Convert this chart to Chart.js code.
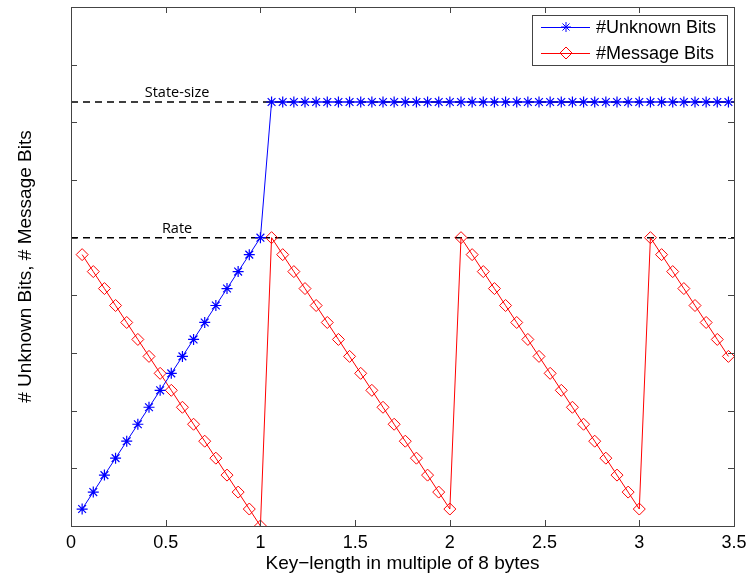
<!DOCTYPE html>
<html>
<head>
<meta charset="utf-8">
<script src="https://cdn.jsdelivr.net/npm/chart.js@4.4.1/dist/chart.umd.min.js"></script>
<style>
  html, body { margin: 0; padding: 0; background: #fff; }
  #wrap { width: 748px; height: 578px; }
</style>
</head>
<body>
<div id="wrap"><canvas id="chart" width="748" height="578"></canvas></div>
<script>
// key length counted in 8-byte blocks; 17 blocks = 1 unit on the x axis
const keyBlocks = [1, 2, 3, 4, 5, 6, 7, 8, 9, 10, 11, 12, 13, 14, 15, 16, 17, 18, 19, 20,
  21, 22, 23, 24, 25, 26, 27, 28, 29, 30, 31, 32, 33, 34, 35, 36, 37, 38, 39, 40,
  41, 42, 43, 44, 45, 46, 47, 48, 49, 50, 51, 52, 53, 54, 55, 56, 57, 58, 59];
const blocksPerUnit = 17;

const unknownBits = [64, 128, 192, 256, 320, 384, 448, 512, 576, 640, 704, 768, 832, 896, 960, 1024, 1088,
  1600, 1600, 1600, 1600, 1600, 1600, 1600, 1600, 1600, 1600, 1600, 1600, 1600, 1600, 1600, 1600, 1600,
  1600, 1600, 1600, 1600, 1600, 1600, 1600, 1600, 1600, 1600, 1600, 1600, 1600, 1600, 1600, 1600, 1600,
  1600, 1600, 1600, 1600, 1600, 1600, 1600, 1600];
const messageBits = [1024, 960, 896, 832, 768, 704, 640, 576, 512, 448, 384, 320, 256, 192, 128, 64, 0,
  1088, 1024, 960, 896, 832, 768, 704, 640, 576, 512, 448, 384, 320, 256, 192, 128, 64,
  1088, 1024, 960, 896, 832, 768, 704, 640, 576, 512, 448, 384, 320, 256, 192, 128, 64,
  1088, 1024, 960, 896, 832, 768, 704, 640];

const stateSize = 1600;
const rateBits = 1088;

const xTicks = [0, 0.5, 1, 1.5, 2, 2.5, 3, 3.5];
const yTicks = [0, 217.6, 435.2, 652.8, 870.4, 1088, 1305.6, 1523.2, 1740.8, 1958.4];

const toPoints = vals => vals.map((v, i) => ({ x: keyBlocks[i] / blocksPerUnit, y: v }));
const hLine = v => [{ x: xTicks[0], y: v }, { x: xTicks[xTicks.length - 1], y: v }];

const AXIS_FONT = 'Liberation Sans, Arial, sans-serif';

// frame with inward ticks on all four sides (matlab box)
const framePlugin = {
  id: 'frame',
  afterDatasetsDraw(chart) {
    const { ctx, chartArea: a, scales: { x, y } } = chart;
    ctx.save();
    ctx.strokeStyle = '#444';
    ctx.lineWidth = 1;
    ctx.strokeRect(a.left + 0.5, a.top + 0.5, a.right - a.left, a.bottom - a.top);
    ctx.beginPath();
    const len = 6;
    xTicks.forEach(v => {
      const px = Math.round(x.getPixelForValue(v)) + 0.5;
      ctx.moveTo(px, a.bottom); ctx.lineTo(px, a.bottom - len);
      ctx.moveTo(px, a.top); ctx.lineTo(px, a.top + len);
    });
    yTicks.forEach(v => {
      const py = Math.round(y.getPixelForValue(v)) + 0.5;
      ctx.moveTo(a.left, py); ctx.lineTo(a.left + len, py);
      ctx.moveTo(a.right, py); ctx.lineTo(a.right - len, py);
    });
    ctx.stroke();
    ctx.restore();
  }
};

// "State-size" / "Rate" text over the dashed lines
const refLabelPlugin = {
  id: 'refLabels',
  afterDatasetsDraw(chart, args, opts) {
    const { ctx, scales: { x, y } } = chart;
    ctx.save();
    ctx.font = '14.5px "Open Sans", sans-serif';
    ctx.fillStyle = '#000';
    ctx.textAlign = 'center';
    ctx.textBaseline = 'alphabetic';
    opts.items.forEach(it => {
      ctx.fillText(it.text, x.getPixelForValue(opts.atX), y.getPixelForValue(it.value) - 5);
    });
    ctx.restore();
  }
};

// legend box inside the plot, top right
const boxLegendPlugin = {
  id: 'boxLegend',
  afterDraw(chart) {
    const { ctx, chartArea: a } = chart;
    const left = a.right - 202, top = a.top + 8, w = 195, h = 50;
    ctx.save();
    ctx.fillStyle = '#fff';
    ctx.fillRect(left, top, w, h);
    ctx.strokeStyle = '#444';
    ctx.lineWidth = 1;
    ctx.strokeRect(left + 0.5, top + 0.5, w, h);

    const rows = chart.data.datasets.filter(d => d.inLegend);
    rows.forEach((d, i) => {
      const cy = top + 12 + i * 26;
      ctx.strokeStyle = d.borderColor;
      ctx.lineWidth = 1;
      ctx.beginPath();
      ctx.moveTo(left + 9, cy + 0.5); ctx.lineTo(left + 58, cy + 0.5);
      ctx.stroke();
      const mx = left + 34;
      ctx.beginPath();
      if (d.pointStyle === 'star') {
        const r = 5;
        for (let k = 0; k < 4; k++) {
          const ang = k * Math.PI / 4;
          ctx.moveTo(mx - r * Math.cos(ang), cy - r * Math.sin(ang));
          ctx.lineTo(mx + r * Math.cos(ang), cy + r * Math.sin(ang));
        }
      } else {
        const r = 6;
        ctx.moveTo(mx, cy - r); ctx.lineTo(mx + r, cy); ctx.lineTo(mx, cy + r); ctx.lineTo(mx - r, cy); ctx.closePath();
      }
      ctx.stroke();
      ctx.fillStyle = '#000';
      ctx.font = '18px ' + AXIS_FONT;
      ctx.textBaseline = 'middle';
      ctx.textAlign = 'left';
      ctx.fillText(d.label, left + 64, cy + 1);
    });
    ctx.restore();
  }
};

new Chart(document.getElementById('chart'), {
  type: 'line',
  data: {
    datasets: [
      {
        label: '#Unknown Bits',
        inLegend: true,
        data: toPoints(unknownBits),
        borderColor: '#0000ff',
        borderWidth: 1,
        pointStyle: 'star',
        pointRadius: 5.5,
        pointBorderColor: '#0000ff',
        pointBorderWidth: 1.2,
        pointBackgroundColor: 'rgba(0,0,0,0)',
        order: 0
      },
      {
        label: '#Message Bits',
        inLegend: true,
        data: toPoints(messageBits),
        borderColor: '#ff0000',
        borderWidth: 1,
        pointStyle: 'rectRot',
        pointRadius: 6,
        pointBorderColor: '#ff0000',
        pointBorderWidth: 1,
        pointBackgroundColor: 'rgba(0,0,0,0)',
        order: 1
      },
      {
        label: 'State-size',
        data: hLine(stateSize),
        borderColor: '#000',
        borderWidth: 1.5,
        borderDash: [7, 5],
        pointRadius: 0,
        order: 2
      },
      {
        label: 'Rate',
        data: hLine(rateBits),
        borderColor: '#000',
        borderWidth: 1.5,
        borderDash: [7, 5],
        pointRadius: 0,
        order: 3
      }
    ]
  },
  options: {
    responsive: false,
    animation: false,
    devicePixelRatio: 1,
    layout: { padding: { top: 4, right: 14, left: 0, bottom: 0 } },
    plugins: {
      legend: { display: false },
      tooltip: { enabled: false },
      refLabels: {
        atX: 0.56,
        items: [{ text: 'State-size', value: stateSize }, { text: 'Rate', value: rateBits }]
      }
    },
    scales: {
      x: {
        type: 'linear',
        min: 0,
        max: 3.5,
        afterBuildTicks: s => { s.ticks = xTicks.map(v => ({ value: v })); },
        afterFit: s => { s.height = 52; },
        grid: { display: false },
        border: { display: false },
        ticks: {
          padding: -2,
          color: '#000',
          font: { family: AXIS_FONT, size: 18 },
          maxRotation: 0,
          callback: v => String(v)
        },
        title: {
          display: true,
          text: 'Key\u2212length in multiple of 8 bytes',
          color: '#000',
          font: { family: AXIS_FONT, size: 19 },
          padding: { top: 0, bottom: 3 }
        }
      },
      y: {
        type: 'linear',
        min: 0,
        max: 1958.4,
        afterBuildTicks: s => { s.ticks = yTicks.map(v => ({ value: v })); },
        afterFit: s => { s.width = 71; },
        grid: { display: false },
        border: { display: false },
        ticks: { display: false },
        title: {
          display: true,
          text: '# Unknown Bits, # Message Bits',
          color: '#000',
          font: { family: AXIS_FONT, size: 19 },
          padding: { top: 14, bottom: 0 }
        }
      }
    }
  },
  plugins: [framePlugin, refLabelPlugin, boxLegendPlugin]
});
</script>
</body>
</html>
